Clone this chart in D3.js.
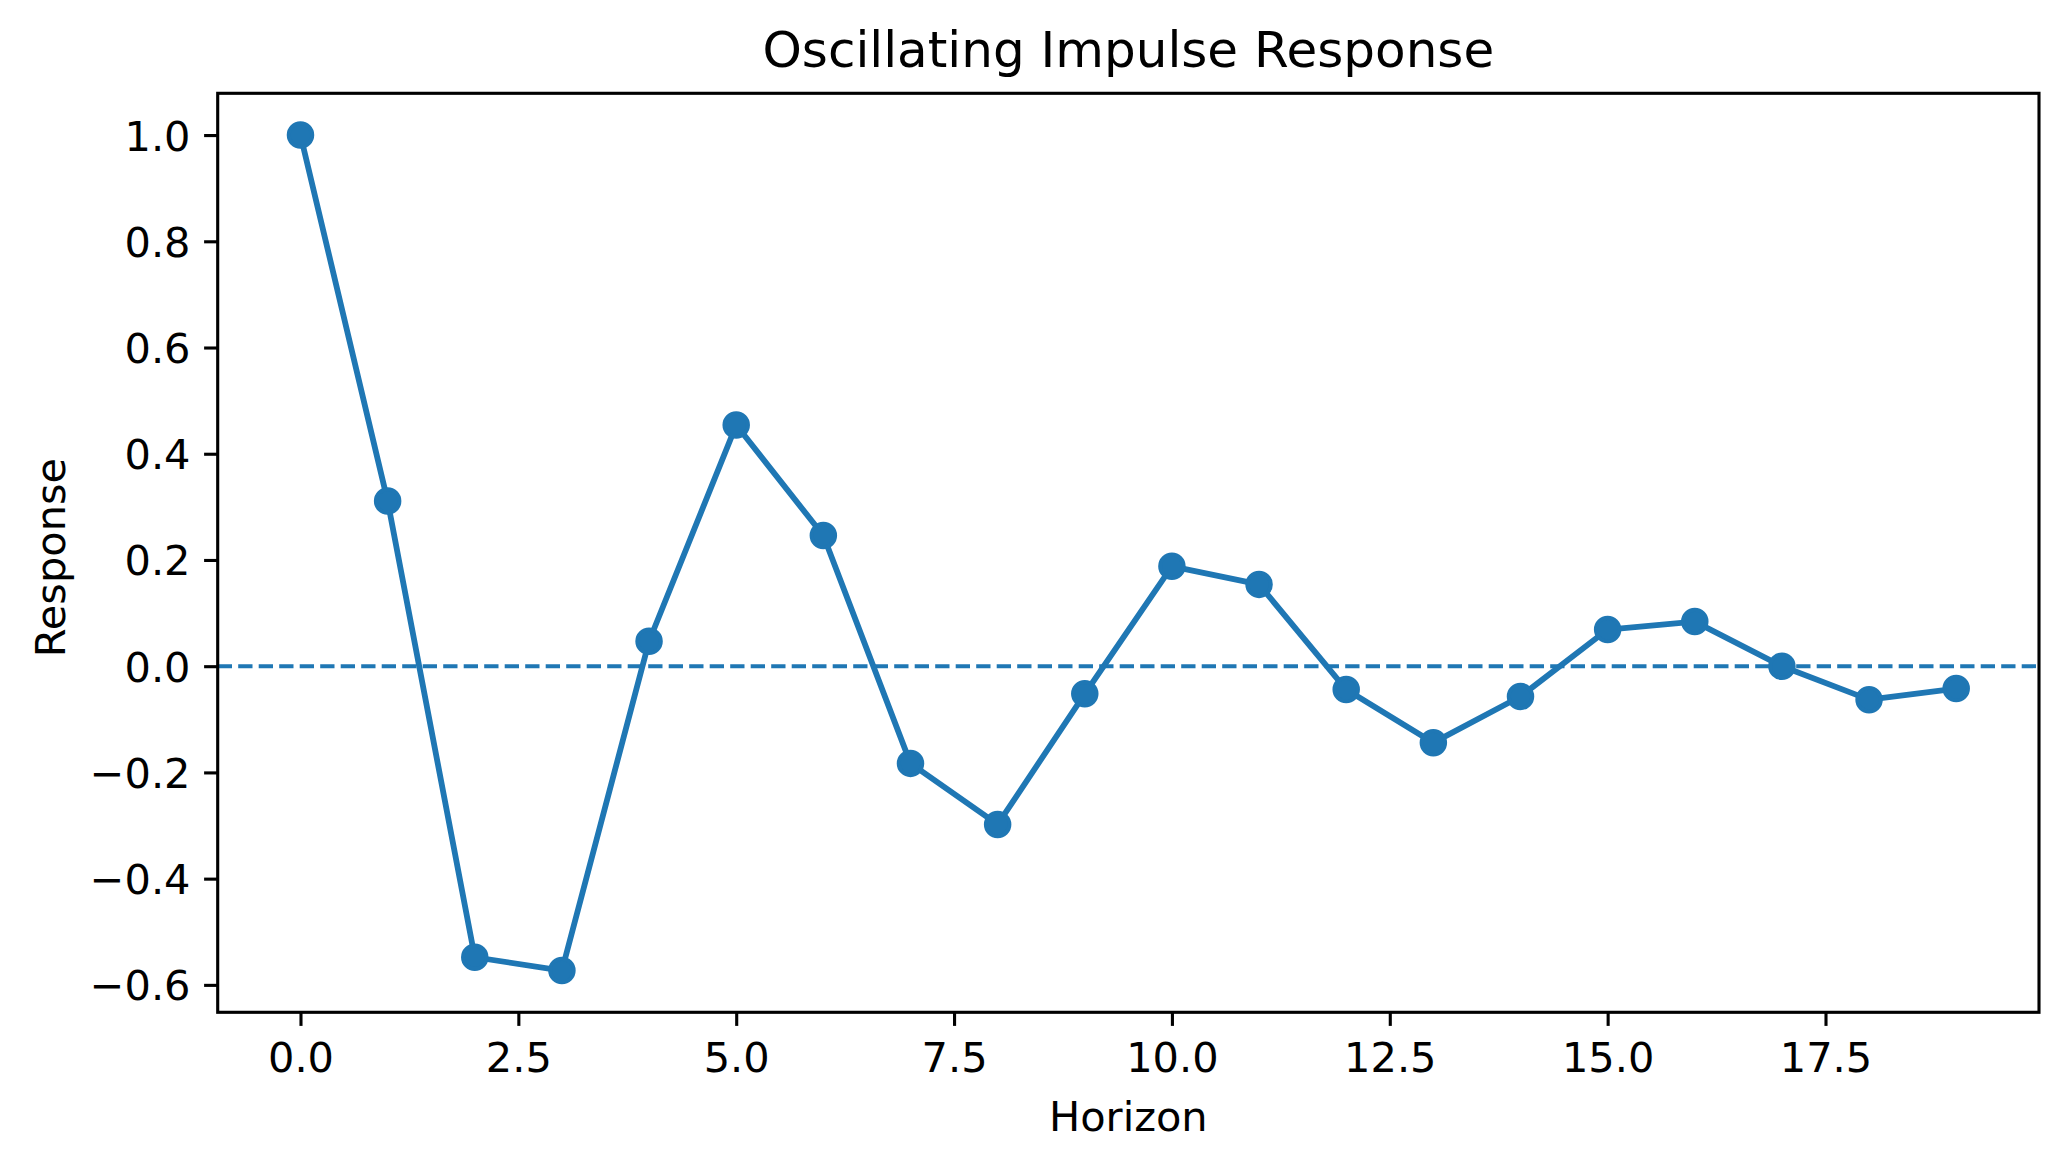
<!DOCTYPE html>
<html>
<head>
<meta charset="utf-8">
<script src="https://cdn.jsdelivr.net/npm/d3@7"></script>
<style>
  html, body { margin: 0; padding: 0; background: #fff; }
  svg { display: block; font-family: "DejaVu Sans", sans-serif; }
</style>
</head>
<body>
<script>
const horizons = [0,1,2,3,4,5,6,7,8,9,10,11,12,13,14,15,16,17,18,19];
const responses = [1.0, 0.311, -0.548, -0.573, 0.047, 0.454, 0.246, -0.183, -0.298, -0.052,
                   0.188, 0.154, -0.044, -0.144, -0.057, 0.069, 0.084, 0.0, -0.063, -0.042];
const xTicks = [0, 2.5, 5, 7.5, 10, 12.5, 15, 17.5];
const yTicks = [-0.6, -0.4, -0.2, 0.0, 0.2, 0.4, 0.6, 0.8, 1.0];
const titleText = "Oscillating Impulse Response";
const xLabelText = "Horizon";
const yLabelText = "Response";

(function () {
const W = 2067, H = 1168;
const mLeft = 217.7, mRight = 2039, mTop = 93.3, mBottom = 1012.3;
const color = "#1f77b4";
const tickFont = 41.5;

const svg = d3.select("body").append("svg").attr("width", W).attr("height", H);

const xPad = (d3.max(horizons) - d3.min(horizons)) * 0.05;
const yMin = d3.min(responses), yMax = d3.max(responses);
const yPad = (yMax - yMin) * 0.05;
const x = d3.scaleLinear().domain([d3.min(horizons) - xPad, d3.max(horizons) + xPad]).range([mLeft, mRight]);
const y = d3.scaleLinear().domain([yMin - yPad, yMax + yPad]).range([mBottom, mTop]);

// zero dashed line
svg.append("line")
  .attr("x1", mLeft).attr("x2", mRight)
  .attr("y1", y(0)).attr("y2", y(0))
  .attr("stroke", color).attr("stroke-width", 3.9)
  .attr("stroke-dasharray", "14.3,6.2");

// line
const line = d3.line().x((d, i) => x(horizons[i])).y(d => y(d));
svg.append("path").datum(responses)
  .attr("d", line).attr("fill", "none")
  .attr("stroke", color).attr("stroke-width", 5.8)
  .attr("stroke-linejoin", "round").attr("stroke-linecap", "butt");

// markers
svg.append("g").selectAll("circle").data(responses).join("circle")
  .attr("cx", (d, i) => x(horizons[i])).attr("cy", d => y(d))
  .attr("r", 11.8).attr("fill", color)
  .attr("stroke", color).attr("stroke-width", 3.9);

// axes
const fmt = d3.format(".1f");
const minus = s => s.replace("-", "\u2212");
const xAxis = d3.axisBottom(x).tickValues(xTicks).tickFormat(d => minus(fmt(d)))
  .tickSize(13.6).tickPadding(13.6);
const yAxis = d3.axisLeft(y).tickValues(yTicks).tickFormat(d => minus(fmt(d)))
  .tickSize(13.6).tickPadding(13.6);

const gx = svg.append("g").attr("transform", `translate(0,${mBottom})`).call(xAxis);
const gy = svg.append("g").attr("transform", `translate(${mLeft},0)`).call(yAxis);
[gx, gy].forEach(g => {
  g.select(".domain").remove();
  g.selectAll(".tick line").attr("stroke", "#000").attr("stroke-width", 3.1);
  g.selectAll(".tick text").attr("fill", "#000")
    .style("font-size", tickFont + "px").style("font-family", "DejaVu Sans");
});
gx.selectAll(".tick text").attr("dy", null).attr("y", 59.5);
gy.selectAll(".tick text").attr("dy", "0.36em");

// frame
svg.append("rect")
  .attr("x", mLeft).attr("y", mTop)
  .attr("width", mRight - mLeft).attr("height", mBottom - mTop)
  .attr("fill", "none").attr("stroke", "#000").attr("stroke-width", 3.1);

// title and labels
svg.append("text").attr("x", (mLeft + mRight) / 2).attr("y", 67)
  .attr("text-anchor", "middle").style("font-size", "50px").text(titleText);
svg.append("text").attr("x", (mLeft + mRight) / 2).attr("y", 1130.5)
  .attr("text-anchor", "middle").style("font-size", tickFont + "px").text(xLabelText);
svg.append("text").attr("transform", `translate(65,557.5) rotate(-90)`)
  .attr("text-anchor", "middle").style("font-size", tickFont + "px").text(yLabelText);
})();
</script>
</body>
</html>
